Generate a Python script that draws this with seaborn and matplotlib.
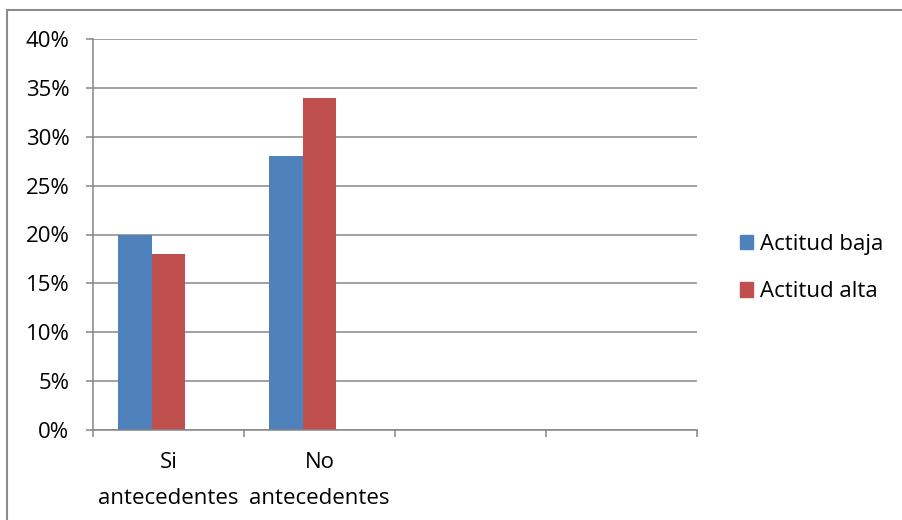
import pandas as pd
import numpy as np
import matplotlib.pyplot as plt
import matplotlib.patches as mpatches
from matplotlib.ticker import FixedLocator, PercentFormatter
import seaborn as sns

categories = ['Si\nantecedentes', 'No\nantecedentes', ' ', '  ']
series = ['Actitud baja', 'Actitud alta']
baja = [20, 28]
alta = [18, 34]

data = pd.DataFrame({
    'cat': categories[:2] * 2,
    'serie': [series[0]] * 2 + [series[1]] * 2,
    'valor': baja + alta,
})

sns.set_style('white')
plt.rcParams['font.family'] = ['Open Sans', 'DejaVu Sans']
plt.rcParams['text.color'] = 'black'
plt.rcParams['xtick.color'] = 'black'
plt.rcParams['ytick.color'] = 'black'

fig = plt.figure(figsize=(9.03, 5.2), dpi=100)
ax = fig.add_axes([93 / 903, 1 - 430 / 520, (697 - 93) / 903, (430 - 39) / 520])

colors = {'Actitud baja': '#4F81BD', 'Actitud alta': '#C0504D', 'vacio': '#FFFFFF'}
sns.barplot(data=data, x='cat', y='valor', hue='serie', order=categories,
            hue_order=series + ['vacio'], palette=colors, width=0.675,
            saturation=1, linewidth=0, ax=ax, legend=False)

grid = '#868686'
ax.set_ylim(0, 40)
ax.set_xlim(-0.5, 3.5)
ax.set_yticks(np.arange(0, 41, 5))
ax.yaxis.set_major_formatter(PercentFormatter(decimals=0))
ax.yaxis.grid(True, color=grid, linewidth=1.1)
ax.set_axisbelow(True)
ax.set_xlabel('')
ax.set_ylabel('')
for s in ['top', 'right']:
    ax.spines[s].set_visible(False)
for s in ['left', 'bottom']:
    ax.spines[s].set_color(grid)
    ax.spines[s].set_linewidth(1.1)

ax.tick_params(axis='y', length=5, width=1.1, color=grid, labelcolor='black',
               pad=12, labelsize=16, left=True)
ax.set_xticks(range(len(categories)), categories, linespacing=1.95)
ax.xaxis.set_minor_locator(FixedLocator(np.arange(-0.5, 3.6, 1)))
ax.tick_params(axis='x', which='major', length=0, pad=16, labelsize=16, labelcolor='black')
ax.tick_params(axis='x', which='minor', length=5, width=1.1, color=grid, bottom=True)

handles = [mpatches.Patch(color=colors[s], label=s) for s in series]
fig.legend(handles=handles, loc='center left', bbox_to_anchor=(729 / 903, 1 - 268 / 520),
           frameon=False, fontsize=16, handlelength=0.6, handleheight=0.6,
           handletextpad=0.3, labelspacing=1.2, borderpad=0, labelcolor='black')

fig.patches.append(mpatches.Rectangle((7 / 903, -0.1), 1.2, 1.1 - 10 / 520,
                                      transform=fig.transFigure, fill=False,
                                      edgecolor='#8C8C8C', linewidth=1.5))

fig.savefig('out.png', dpi=100)
